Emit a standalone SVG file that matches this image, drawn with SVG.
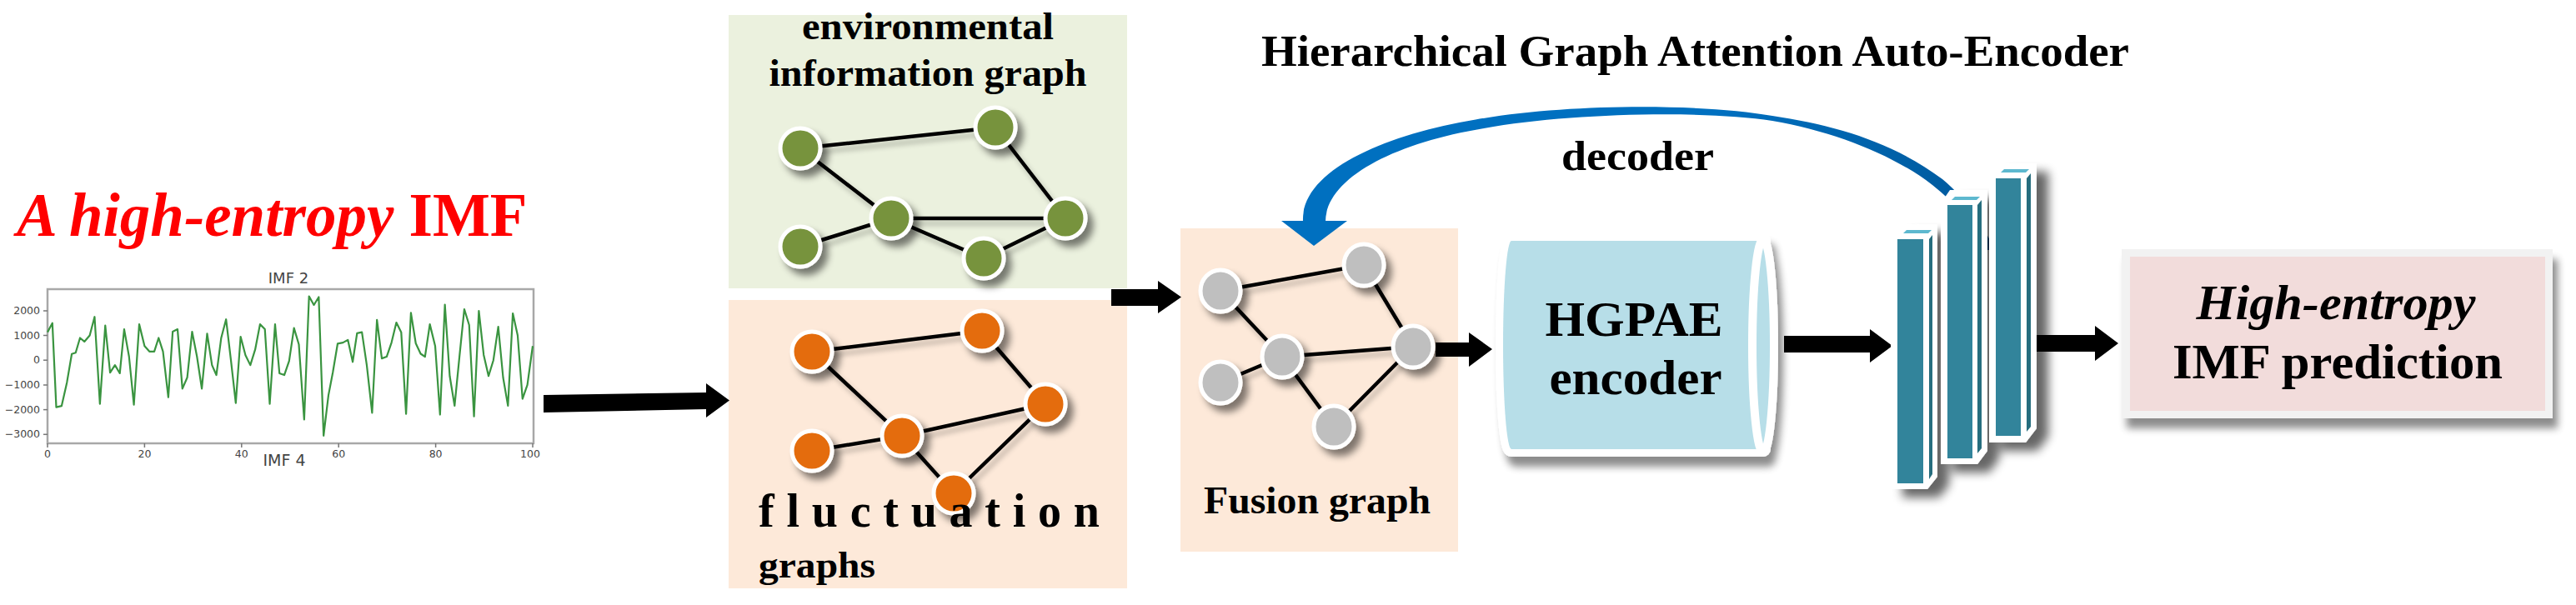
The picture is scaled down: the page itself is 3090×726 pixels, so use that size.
<svg xmlns="http://www.w3.org/2000/svg" width="3090" height="726" viewBox="0 0 3090 726">
<defs>
<style>
.serif{font-family:"Liberation Serif","Times New Roman",serif;font-weight:bold;fill:#000}
.sans{font-family:"DejaVu Sans","Liberation Sans",sans-serif;fill:#444}
.edge{stroke:#000;stroke-width:4.5;stroke-linecap:round}
.nd{stroke:#fff;stroke-width:5}
.green{fill:#77933c}
.orange{fill:#e46c0a}
.gray{fill:#bfbfbf}
.arrow{fill:#000}
.tick{stroke:#777;stroke-width:1.5}
.teal{fill:#31849b}
.side{fill:#276d7e}
.bartop{fill:#5db8cf}
.barout{fill:#fff}
</style>
<filter id="sh" x="-40%" y="-40%" width="200%" height="200%">
<feGaussianBlur in="SourceAlpha" stdDeviation="4.5"/>
<feOffset dx="7" dy="8"/>
<feComponentTransfer><feFuncA type="linear" slope="0.5"/></feComponentTransfer>
<feMerge><feMergeNode/><feMergeNode in="SourceGraphic"/></feMerge>
</filter>
<filter id="shl" x="-10%" y="-10%" width="120%" height="130%">
<feGaussianBlur in="SourceAlpha" stdDeviation="3"/>
<feOffset dx="4" dy="6"/>
<feComponentTransfer><feFuncA type="linear" slope="0.25"/></feComponentTransfer>
<feMerge><feMergeNode/><feMergeNode in="SourceGraphic"/></feMerge>
</filter>
<filter id="shb" x="-20%" y="-20%" width="150%" height="150%">
<feGaussianBlur in="SourceAlpha" stdDeviation="5"/>
<feOffset dx="6" dy="12"/>
<feComponentTransfer><feFuncA type="linear" slope="0.45"/></feComponentTransfer>
<feMerge><feMergeNode/><feMergeNode in="SourceGraphic"/></feMerge>
</filter>
<filter id="shbar" x="-50%" y="-20%" width="250%" height="150%">
<feGaussianBlur in="SourceAlpha" stdDeviation="6"/>
<feOffset dx="14" dy="10"/>
<feComponentTransfer><feFuncA type="linear" slope="0.6"/></feComponentTransfer>
<feMerge><feMergeNode/><feMergeNode in="SourceGraphic"/></feMerge>
</filter>
<linearGradient id="arcg" x1="1560" y1="0" x2="2390" y2="0" gradientUnits="userSpaceOnUse">
<stop offset="0" stop-color="#0070c0"/>
<stop offset="0.6" stop-color="#0070c0"/>
<stop offset="1" stop-color="#00589b"/>
</linearGradient>
</defs>
<rect width="3090" height="726" fill="#fff"/>

<g id="imf-input">
<text x="20" y="283" font-size="73" fill="#ff0000" font-family="'Liberation Serif','Times New Roman',serif" font-weight="bold"><tspan font-style="italic">A high-entropy</tspan> IMF</text>
<text class="sans" x="346" y="340" font-size="18" text-anchor="middle">IMF 2</text>
<rect x="57" y="347" width="583" height="185" fill="#fff" stroke="#a8a8a8" stroke-width="2.5"/>
<g class="tick">
<line x1="52" y1="373" x2="57" y2="373"/><line x1="52" y1="402.5" x2="57" y2="402.5"/><line x1="52" y1="432.2" x2="57" y2="432.2"/>
<line x1="52" y1="462" x2="57" y2="462"/><line x1="52" y1="491.6" x2="57" y2="491.6"/><line x1="52" y1="521.3" x2="57" y2="521.3"/>
<line x1="57" y1="532" x2="57" y2="537"/><line x1="173.4" y1="532" x2="173.4" y2="537"/><line x1="289.8" y1="532" x2="289.8" y2="537"/>
<line x1="406.2" y1="532" x2="406.2" y2="537"/><line x1="522.6" y1="532" x2="522.6" y2="537"/><line x1="639" y1="532" x2="639" y2="537"/>
</g>
<g class="sans" font-size="12.5" text-anchor="end">
<text x="48" y="377">2000</text><text x="48" y="406.5">1000</text><text x="48" y="436.2">0</text>
<text x="48" y="466">−1000</text><text x="48" y="495.6">−2000</text><text x="48" y="525.3">−3000</text>
</g>
<g class="sans" font-size="12.5" text-anchor="middle">
<text x="57" y="549">0</text><text x="173.4" y="549">20</text><text x="289.8" y="549">40</text>
<text x="406.2" y="549">60</text><text x="522.6" y="549">80</text><text x="636" y="549">100</text>
</g>
<g transform="translate(57,432.2) scale(5.82,-29.7)">
<polyline fill="none" stroke="#3a9440" stroke-width="2.2" stroke-linejoin="round" vector-effect="non-scaling-stroke" points="0,1.13 1,1.5 1.8,-1.9 2.9,-1.85 4,-0.9 5,0.25 5.8,0.3 6.7,0.9 7.6,0.75 8.7,1.0 9.7,1.75 10.8,-1.77 11.9,1.4 12.9,-0.5 13.9,-0.2 14.9,-0.53 15.8,1.25 16.8,0.15 17.8,-1.8 18.9,1.45 20,0.57 21,0.35 22,0.35 22.9,0.9 23.8,0.35 24.9,-1.5 25.8,1.15 26.8,1.25 27.8,-1.15 28.8,-0.7 29.8,1.15 30.8,0.15 31.8,-1.15 32.9,1.07 33.9,-0.2 34.8,-0.6 35.8,0.9 36.8,1.65 37.8,0 38.8,-1.73 39.8,0.95 40.8,0.2 41.8,-0.2 42.8,0.43 43.8,1.45 44.8,1.25 45.8,-1.77 46.9,1.45 47.8,-0.53 48.8,-0.6 49.8,-0.03 50.8,1.3 51.8,0.64 52.9,-2.4 53.9,2.58 54.9,2.23 55.9,2.55 56.9,-3.05 57.9,-1.42 58.8,-0.5 59.8,0.67 60.9,0.71 61.9,0.82 62.9,-0.07 63.8,1.09 64.8,1.13 65.8,-0.2 66.9,-2.13 67.9,1.63 68.9,0.07 69.9,0.14 70.9,0.71 71.9,1.52 72.9,1.13 73.9,-2.17 74.9,1.91 75.9,0.68 76.9,0.26 77.8,0.14 78.8,1.45 79.9,0.57 80.9,-2.2 81.9,2.24 82.9,-0.64 83.9,-1.84 84.9,0.14 85.9,2.06 86.9,1.42 87.9,-2.27 88.9,1.99 89.9,0.21 90.9,-0.64 91.9,0 92.9,1.35 93.9,-0.7 94.9,-1.84 95.9,1.89 96.9,1.0 97.9,-1.56 98.9,-1.0 100,0.57"/>
</g>
<text class="sans" x="341" y="559" font-size="19" text-anchor="middle">IMF 4</text>
</g>

<g id="environmental-graph">
<rect x="874" y="18" width="478" height="328" fill="#ebf1de"/>
<text class="serif" font-family="'Liberation Serif','Times New Roman',serif" x="1113" y="47" font-size="46" text-anchor="middle" textLength="302" lengthAdjust="spacingAndGlyphs">environmental</text>
<text class="serif" font-family="'Liberation Serif','Times New Roman',serif" x="1113" y="103" font-size="46" text-anchor="middle" textLength="381" lengthAdjust="spacingAndGlyphs">information graph</text>
<g filter="url(#shl)">
<line class="edge" x1="960" y1="178" x2="1194" y2="153"/><line class="edge" x1="960" y1="178" x2="1069" y2="262"/>
<line class="edge" x1="1194" y1="153" x2="1278" y2="262"/><line class="edge" x1="1069" y1="262" x2="1278" y2="262"/>
<line class="edge" x1="1069" y1="262" x2="960" y2="296"/><line class="edge" x1="1069" y1="262" x2="1180" y2="310"/>
<line class="edge" x1="1180" y1="310" x2="1278" y2="262"/>
</g>
<g filter="url(#sh)">
<circle class="nd green" cx="960" cy="178" r="24"/><circle class="nd green" cx="1194" cy="153" r="24"/>
<circle class="nd green" cx="1069" cy="262" r="24"/><circle class="nd green" cx="960" cy="296" r="24"/>
<circle class="nd green" cx="1278" cy="262" r="24"/><circle class="nd green" cx="1180" cy="310" r="24"/>
</g>
</g>

<g id="fluctuation-graphs">
<rect x="874" y="360" width="478" height="346" fill="#fde9d9"/>
<g filter="url(#shl)">
<line class="edge" x1="974" y1="422" x2="1178" y2="397"/><line class="edge" x1="974" y1="422" x2="1082" y2="523"/>
<line class="edge" x1="1178" y1="397" x2="1254" y2="485"/><line class="edge" x1="1082" y1="523" x2="1254" y2="485"/>
<line class="edge" x1="1082" y1="523" x2="974" y2="541"/><line class="edge" x1="1082" y1="523" x2="1144" y2="592"/>
<line class="edge" x1="1144" y1="592" x2="1254" y2="485"/>
</g>
<g filter="url(#sh)">
<circle class="nd orange" cx="974" cy="422" r="24"/><circle class="nd orange" cx="1178" cy="397" r="24"/>
<circle class="nd orange" cx="1082" cy="523" r="24"/><circle class="nd orange" cx="974" cy="541" r="24"/>
<circle class="nd orange" cx="1254" cy="485" r="24"/><circle class="nd orange" cx="1144" cy="592" r="24"/>
</g>
<text class="serif" font-family="'Liberation Serif','Times New Roman',serif" x="910" y="632" font-size="56" textLength="409" lengthAdjust="spacing">f l u c t u a t i o n</text>
<text class="serif" font-family="'Liberation Serif','Times New Roman',serif" x="910" y="693" font-size="44" textLength="140" lengthAdjust="spacingAndGlyphs">graphs</text>
</g>

<g id="fusion-graph">
<rect x="1416" y="274" width="333" height="388" fill="#fde9d9"/>
<g filter="url(#shl)">
<line class="edge" x1="1464" y1="349" x2="1636" y2="318"/><line class="edge" x1="1464" y1="349" x2="1538" y2="428"/>
<line class="edge" x1="1636" y1="318" x2="1695" y2="416"/><line class="edge" x1="1538" y1="428" x2="1695" y2="416"/>
<line class="edge" x1="1538" y1="428" x2="1464" y2="459"/><line class="edge" x1="1538" y1="428" x2="1600" y2="512"/>
<line class="edge" x1="1600" y1="512" x2="1695" y2="416"/>
</g>
<g filter="url(#sh)">
<ellipse class="nd gray" cx="1464" cy="349" rx="24" ry="25"/><ellipse class="nd gray" cx="1636" cy="318" rx="24" ry="25"/>
<ellipse class="nd gray" cx="1538" cy="428" rx="24" ry="25"/><ellipse class="nd gray" cx="1464" cy="459" rx="24" ry="25"/>
<ellipse class="nd gray" cx="1695" cy="416" rx="24" ry="25"/><ellipse class="nd gray" cx="1600" cy="512" rx="24" ry="25"/>
</g>
<text class="serif" font-family="'Liberation Serif','Times New Roman',serif" x="1580" y="616" font-size="46" text-anchor="middle" textLength="272" lengthAdjust="spacingAndGlyphs">Fusion graph</text>
</g>

<g id="hgpae-encoder">
<g filter="url(#shb)">
<path d="M1813 289 L2115 289 L2115 539 L1813 539 A10 125 0 0 1 1813 289 Z" fill="#b7dee8" stroke="#fff" stroke-width="18" stroke-linejoin="round" paint-order="stroke"/>
<ellipse cx="2115" cy="415" rx="13" ry="128" fill="#b7dee8" stroke="#fff" stroke-width="10"/>
</g>
<text class="serif" font-family="'Liberation Serif','Times New Roman',serif" x="1960" y="403" font-size="60" text-anchor="middle" textLength="213" lengthAdjust="spacingAndGlyphs">HGPAE</text>
<text class="serif" font-family="'Liberation Serif','Times New Roman',serif" x="1962" y="473" font-size="60" text-anchor="middle" textLength="207" lengthAdjust="spacingAndGlyphs">encoder</text>
</g>

<g id="connectors">
<polygon class="arrow" points="652,474 847,471 847,460 875,480.5 847,501 847,491 652,495"/>
<polygon class="arrow" points="1333,347 1389,347 1389,337 1417,356.5 1389,376 1389,367 1333,367"/>
<polygon class="arrow" points="1722,411 1762,411 1762,399 1790,419 1762,440 1762,428 1722,428"/>
<polygon class="arrow" points="2140,403 2243,403 2243,395 2270,415 2243,435 2243,423 2140,423"/>
<polygon class="arrow" points="2440,402 2513,402 2513,391 2541,412 2513,433 2513,422 2440,422"/>
<g id="decoder-arc">
<path d="M2392 300 C2380 270 2360 240 2330 215 C2270 170 2200 150 2126 139 C2040 124 1880 124 1770 143.5 C1660 162 1560 205 1563 266 L1590 266 C1590 215 1670 172 1780 154 C1880 136 2040 132 2126 145 C2200 158 2270 185 2318 222 C2350 248 2370 272 2382 300 Z" fill="url(#arcg)"/>
<polygon points="1537,265 1616,265 1576,295" fill="#0070c0"/>
<text class="serif" font-family="'Liberation Serif','Times New Roman',serif" x="1873" y="204" font-size="51" textLength="183" lengthAdjust="spacingAndGlyphs">decoder</text>
</g>
</g>

<g id="attention-layers" filter="url(#shbar)">
<g id="layer3">
<polygon class="barout" points="2386,531 2386,211 2397,196 2443,196 2443,514 2430,531"/>
<rect class="teal" x="2394" y="214" width="30" height="309"/>
<polygon class="side" points="2431,214 2436,208 2436,512 2431,518"/>
<polygon class="bartop" points="2400,207 2430,207 2434,203 2404,203"/>
</g>
<g id="layer2">
<polygon class="barout" points="2328,557 2328,244 2339,228 2384,228 2384,541 2372,557"/>
<rect class="teal" x="2336" y="246" width="30" height="304"/>
<polygon class="side" points="2372,246 2377,240 2377,538 2372,544"/>
<polygon class="bartop" points="2341,240 2371,240 2375,236 2345,236"/>
</g>
<g id="layer1">
<polygon class="barout" points="2268,587 2268,284 2279,269 2324,269 2324,572 2312,587"/>
<rect class="teal" x="2276" y="287" width="31" height="293"/>
<polygon class="side" points="2314,287 2318,282 2318,569 2314,575"/>
<polygon class="bartop" points="2283,280 2313,280 2317,276 2287,276"/>
</g>
</g>

<g id="imf-prediction">
<g filter="url(#shb)">
<rect x="2545" y="299" width="517" height="203" fill="#f2f2f2"/>
</g>
<rect x="2555" y="308" width="498" height="185" fill="#f2dcdb"/>
<text class="serif" font-family="'Liberation Serif','Times New Roman',serif" x="2802" y="383" font-size="60" font-style="italic" text-anchor="middle" textLength="335" lengthAdjust="spacingAndGlyphs">High-entropy</text>
<text class="serif" font-family="'Liberation Serif','Times New Roman',serif" x="2804" y="454" font-size="60" text-anchor="middle" textLength="396" lengthAdjust="spacingAndGlyphs">IMF prediction</text>
</g>

<g id="title">
<text class="serif" font-family="'Liberation Serif','Times New Roman',serif" x="1513" y="79" font-size="52" textLength="1041" lengthAdjust="spacingAndGlyphs">Hierarchical Graph Attention Auto-Encoder</text>
</g>
</svg>
